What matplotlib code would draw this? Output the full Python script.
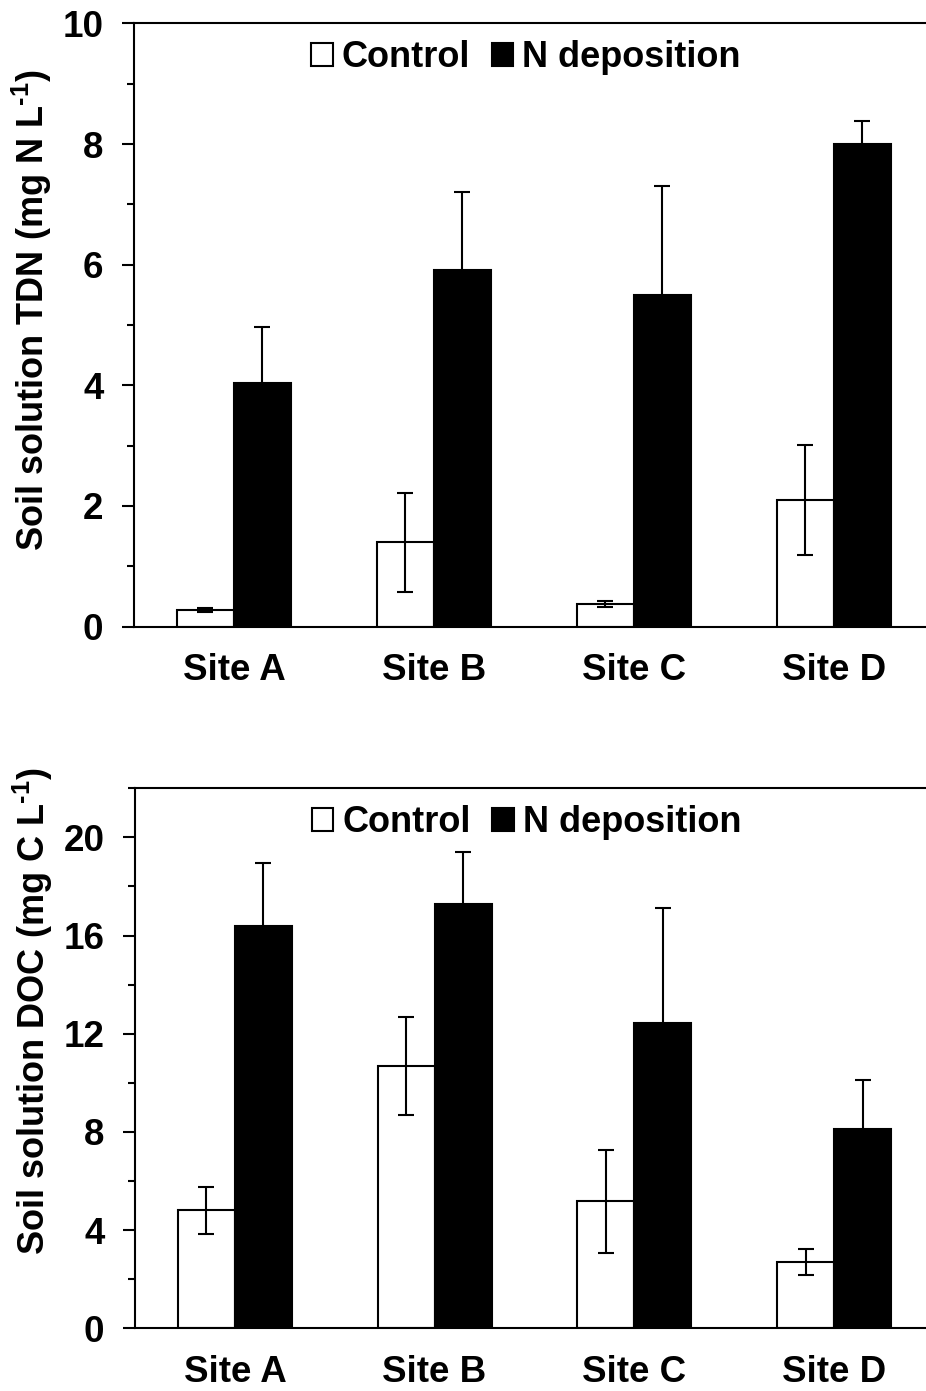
import matplotlib
matplotlib.use("Agg")
import matplotlib.pyplot as plt
import numpy as np
from matplotlib.ticker import MultipleLocator

plt.rcParams['font.family'] = ['Liberation Sans', 'DejaVu Sans']
plt.rcParams['font.weight'] = 'bold'
plt.rcParams['mathtext.fontset'] = 'custom'
plt.rcParams['mathtext.rm'] = 'Liberation Sans:bold'
plt.rcParams['mathtext.bf'] = 'Liberation Sans:bold'
plt.rcParams['mathtext.default'] = 'rm'

# data
sites = ['Site A', 'Site B', 'Site C', 'Site D']
series = ['Control', 'N deposition']

tdn_control = [0.28, 1.40, 0.38, 2.10]
tdn_control_err = [0.03, 0.82, 0.05, 0.91]
tdn_ndep = [4.04, 5.92, 5.50, 8.00]
tdn_ndep_err = [0.93, 1.28, 1.80, 0.38]

doc_control = [4.80, 10.67, 5.18, 2.70]
doc_control_err = [0.97, 2.00, 2.10, 0.54]
doc_ndep = [16.37, 17.30, 12.42, 8.11]
doc_ndep_err = [2.57, 2.10, 4.70, 2.00]

FS = 26.5
LW = 1.5
W = 0.285


def draw_panel(ax, ctrl, ctrl_err, ndep, ndep_err, ylim, major, ylabel, label_y, leg_y):
    x = np.arange(len(sites))
    ekw = dict(ecolor='black', elinewidth=LW, capsize=6, capthick=LW)
    ax.bar(x - W / 2, ctrl, W, color='white', edgecolor='black', linewidth=LW,
           label=series[0], zorder=2)
    ax.bar(x + W / 2, ndep, W, color='black', edgecolor='black', linewidth=LW,
           label=series[1], zorder=2)
    ax.errorbar(x - W / 2, ctrl, yerr=ctrl_err, fmt='none', zorder=3, **ekw)
    ax.errorbar(x + W / 2, ndep, yerr=ndep_err, fmt='none', zorder=1, **ekw)

    ax.set_xlim(-0.5, len(sites) - 0.5)
    ax.set_ylim(*ylim)
    ax.yaxis.set_major_locator(MultipleLocator(major))
    ax.yaxis.set_minor_locator(MultipleLocator(major / 2))
    ax.set_xticks(x)
    ax.set_xticklabels(sites, fontsize=FS, fontweight='bold')
    ax.tick_params(axis='x', length=0, pad=19)
    ax.tick_params(axis='y', which='major', length=9, width=LW, labelsize=FS, pad=13)
    ax.tick_params(axis='y', which='minor', length=5, width=LW)
    for lab in ax.get_yticklabels():
        lab.set_fontweight('bold')

    for s in ['left', 'bottom', 'top']:
        ax.spines[s].set_linewidth(LW)
    ax.spines['right'].set_visible(False)

    ax.set_ylabel(ylabel, fontsize=26, fontweight='bold', va='center')
    ax.yaxis.set_label_coords(-0.128, label_y)

    ax.legend(loc='upper center', bbox_to_anchor=(0.49, leg_y), ncol=2, frameon=False,
              handlelength=0.6, handleheight=0.6, handletextpad=0.25,
              columnspacing=0.6, borderpad=0, borderaxespad=0,
              prop={'weight': 'bold', 'size': 26})


fig = plt.figure(figsize=(9.26, 13.91), dpi=100)
ax1 = fig.add_axes([0.1447, 0.5495, 0.8639, 0.4337])
ax2 = fig.add_axes([0.1458, 0.0451, 0.8628, 0.3882])

draw_panel(ax1, tdn_control, tdn_control_err, tdn_ndep, tdn_ndep_err, (0, 10), 2,
           r'Soil solution TDN (mg N L$^{\text{-1}}$)', 0.525, 0.972)
draw_panel(ax2, doc_control, doc_control_err, doc_ndep, doc_ndep_err, (0, 22), 4,
           r'Soil solution DOC (mg C L$^{\text{-1}}$)', 0.587, 0.969)

fig.savefig('out.png', dpi=100)
